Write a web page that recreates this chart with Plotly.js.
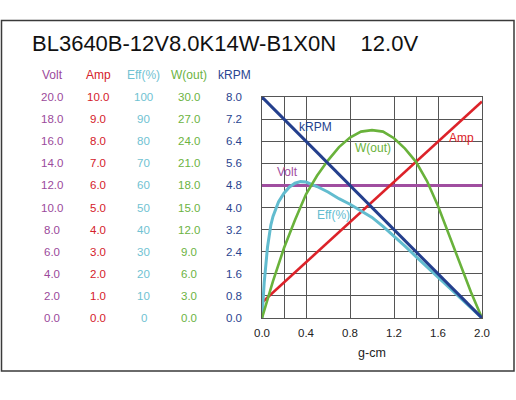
<!DOCTYPE html>
<html><head><meta charset="utf-8">
<script src="https://cdn.plot.ly/plotly-3.0.1.min.js"></script>
<style>html,body{margin:0;padding:0;background:#fff}#chart{width:516px;height:400px}</style>
</head><body><div id="chart"></div>
<script>
// ---------- data ----------
const wTorque = [0,0.1,0.2,0.3,0.4,0.5,0.6,0.7,0.8,0.9,1.0,1.1,1.2,1.3,1.4,1.5,1.6,1.7,1.8,1.9,2.0];
const wOut    = [0,5.0,9.5,13.3,16.8,19.3,21.4,23.2,24.5,25.3,25.5,25.3,24.4,23.0,21.2,18.6,15.2,11.3,7.2,3.5,0];
const effTorque = [0,0.02,0.05,0.08,0.1,0.15,0.2,0.25,0.3,0.35,0.4,0.5,0.6,0.7,0.8,0.9,1.0,1.1,1.2,1.3,1.4,1.5,1.6,1.7,1.8,1.9,2.0];
const effPct    = [0,16,32,42,46,52.5,56.5,59.3,61,61.7,61.5,59.5,57,54,51.5,48.5,45.5,41.5,37.2,32.5,27.8,23,18.5,13.8,9.2,4.6,0];
const rpmTorque = [0,2.0];
const kRPM      = [8.0,0.0];
const ampTorque = [0,2.0];
const amp       = [0.7,9.8];
const voltTorque = [0,2.0];
const volt       = [12.0,12.0];

// ---------- tick labels ----------
const voltTicks = [0,2,4,6,8,10,12,14,16,18,20];
const ampTicks  = [0,1,2,3,4,5,6,7,8,9,10];
const effTicks  = [0,10,20,30,40,50,60,70,80,90,100];
const wTicks    = [0,3,6,9,12,15,18,21,24,27,30];
const rpmTicks  = [0,0.8,1.6,2.4,3.2,4.0,4.8,5.6,6.4,7.2,8.0];
const xTicks    = [0,0.4,0.8,1.2,1.6,2.0];
const xTickText = ['0.0','0.4','0.8','1.2','1.6','2.0'];
const headers   = ['Volt','Amp','Eff(%)','W(out)','kRPM'];
const titleText = 'BL3640B-12V8.0K14W-B1X0N\u00A0\u00A0\u00A0 12.0V';

// ---------- styling ----------
const FONT = 'Liberation Sans, Arial, sans-serif';
const C = {volt:'#a04ea0', amp:'#dc2229', eff:'#62bccf', w:'#69b23b', rpm:'#243f8d'};
const TXT = {volt:'#9b4a9b', amp:'#d4202a', eff:'#70c2d2', w:'#6cb33f', rpm:'#2a4590'};
const FW=516, FH=400, ML=0, MR=34, MT=97, MB=82;
const PW = FW-ML-MR, PH = FH-MT-MB;
const px2x = p => (p-ML)/PW;
const py2y = p => (FH-MB-p)/PH;

const columns = [
  {ticks:voltTicks, yref:'y',  cx:52,    color:TXT.volt, fmt:v=>v.toFixed(1)},
  {ticks:ampTicks,  yref:'y2', cx:98,    color:TXT.amp,  fmt:v=>v.toFixed(1)},
  {ticks:effTicks,  yref:'y3', cx:143.5, color:TXT.eff,  fmt:v=>String(v)},
  {ticks:wTicks,    yref:'y4', cx:189,   color:TXT.w,    fmt:v=>v.toFixed(1)},
  {ticks:rpmTicks,  yref:'y5', cx:234,   color:TXT.rpm,  fmt:v=>v.toFixed(1)}
];

const annotations = [];
columns.forEach((col,i)=>{
  annotations.push({xref:'paper', yref:'paper', x:px2x(col.cx), y:py2y(75), text:headers[i],
    showarrow:false, xanchor:'center', yanchor:'middle', font:{family:FONT,size:12,color:col.color}});
  col.ticks.forEach(v=>{
    annotations.push({xref:'paper', yref:col.yref, x:px2x(col.cx), y:v, text:col.fmt(v),
      showarrow:false, xanchor:'center', yanchor:'middle', font:{family:FONT,size:11.5,color:col.color}});
  });
});
// in-plot series labels
const inLabels = [
  {t:'kRPM',   x:315.5, y:127,   c:C.rpm},
  {t:'W(out)', x:373,   y:148,   c:C.w},
  {t:'Amp',    x:461.5, y:138,   c:C.amp},
  {t:'Volt',   x:287,   y:172,   c:C.volt},
  {t:'Eff(%)', x:333,   y:214.5, c:C.eff}
];
inLabels.forEach(l=>annotations.push({xref:'paper', yref:'paper', x:px2x(l.x), y:py2y(l.y), text:l.t,
  showarrow:false, xanchor:'center', yanchor:'middle', font:{family:FONT,size:12,color:l.c}}));

const common = {mode:'lines', hoverinfo:'skip', showlegend:false};
const traces = [
  Object.assign({x:effTorque, y:effPct, yaxis:'y3', line:{color:C.eff, width:3}}, common),
  Object.assign({x:rpmTorque, y:kRPM, yaxis:'y5', line:{color:C.rpm, width:3}}, common),
  Object.assign({x:wTorque, y:wOut, yaxis:'y4', line:{color:C.w, width:2.6}}, common),
  Object.assign({x:ampTorque, y:amp, yaxis:'y2', line:{color:C.amp, width:2.6}}, common),
  Object.assign({x:voltTorque, y:volt, yaxis:'y', line:{color:C.volt, width:3}}, common)
];

const xDomain = [px2x(262), 1];
const hidden = r => ({overlaying:'y', range:r, visible:false, fixedrange:true});
const layout = {
  width:FW, height:FH,
  margin:{l:ML, r:MR, t:MT, b:MB, pad:0},
  paper_bgcolor:'#fff', plot_bgcolor:'#fff',
  font:{family:FONT, color:'#222'},
  title:{text:titleText, xref:'container', x:32/FW, xanchor:'left', yref:'container', y:1-43.5/FH, yanchor:'middle',
    font:{family:FONT, size:22, color:'#111'}},
  xaxis:{domain:xDomain, range:[0,2], tickmode:'array', tickvals:xTicks, ticktext:xTickText, ticks:'', ticklabelstandoff:4,
    showgrid:true, gridcolor:'#555', gridwidth:1, zeroline:false, showline:true, mirror:true, linecolor:'#555', linewidth:1,
    minor:{tickmode:'array', tickvals:[0.2,1.4], showgrid:true, gridcolor:'#555', gridwidth:1, ticks:''},
    tickfont:{family:FONT, size:11.5, color:'#222'}, fixedrange:true,
    title:{text:'g-cm', font:{family:FONT, size:12.5, color:'#222'}, standoff:10}},
  xaxis2:{overlaying:'x', anchor:'y', range:[0,2], tickmode:'array', tickvals:[0.6,1.0], showticklabels:false, ticks:'',
    showgrid:true, gridcolor:'#a8a8a8', gridwidth:1, zeroline:false, showline:false, fixedrange:true},
  xaxis3:{overlaying:'x', anchor:'y', range:[0,2], tickmode:'array', tickvals:[1.8], showticklabels:false, ticks:'',
    showgrid:true, gridcolor:'#000', gridwidth:1.2, zeroline:false, showline:false, fixedrange:true},
  yaxis:{domain:[0,1], range:[0,20], tickmode:'array', tickvals:voltTicks, showticklabels:false, ticks:'',
    showgrid:true, gridcolor:'#555', gridwidth:1, zeroline:false, showline:true, mirror:true, linecolor:'#555', linewidth:1, fixedrange:true},
  yaxis2:hidden([0,10]), yaxis3:hidden([0,100]), yaxis4:hidden([0,30]), yaxis5:hidden([0,8]),
  annotations:annotations,
  shapes:[{type:'rect', xref:'paper', yref:'paper', x0:px2x(1.5), x1:px2x(514), y0:py2y(371), y1:py2y(20.5),
    line:{color:'#3a3a3a', width:1.5}, fillcolor:'rgba(0,0,0,0)', layer:'below'}]
};
Plotly.newPlot('chart', traces, layout, {displayModeBar:false, staticPlot:true});
</script></body></html>
